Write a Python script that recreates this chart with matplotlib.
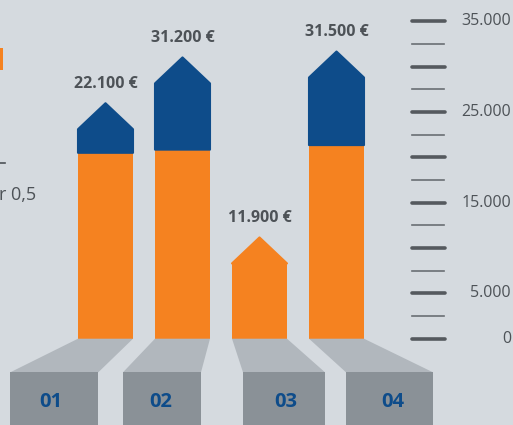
import numpy as np
import matplotlib
matplotlib.use("Agg")
import matplotlib.pyplot as plt
from matplotlib.patches import Polygon, Rectangle

plt.rcParams['font.family'] = ['Open Sans', 'DejaVu Sans']

# data
categories = ['01', '02', '03', '04']
totals = [22100, 31200, 11900, 31500]          # printed labels
orange_top = [20500, 20850, 8300, 21350]       # top of the orange part
blue_top = [23100, 28150, 8300, 28800]         # shoulder of the arrow head
tick_values = np.arange(0, 35001, 2500)
tick_labels = {35000: '35.000', 25000: '25.000', 15000: '15.000', 5000: '5.000', 0: '0'}

# colours
bg = '#d5dadf'
orange = '#f58220'
blue = '#0e4c8a'
txt = '#4d5257'
trap_c = '#b1b7bd'
box_c = '#8a9197'

W, H = 513, 425
fig = plt.figure(figsize=(W / 100, H / 100), dpi=100, facecolor=bg)
ax = fig.add_axes([0, 0, 1, 1])
ax.set_facecolor(bg)
ax.axis('off')

# scale: 0 at y=338.7px, 35000 at y=21.3px (from top)
ppu = (338.7 - 21.3) / 35000.0
ax.set_ylim(-(H - 338.7) / ppu, 35000 + 21.3 / ppu)
# x: bar centres 77px apart, first at 105.5px
step = 77.0
ax.set_xlim(-105.5 / step, (W - 105.5) / step)

x = np.arange(len(categories))
half = 27.5 / step              # half bar width in data units
head = 26.0 / ppu               # arrow head height

for i in x:
    l, r = i - half, i + half
    top_col = blue if blue_top[i] > orange_top[i] else orange
    ax.add_patch(Rectangle((l, 0), 2 * half, orange_top[i], facecolor=orange, edgecolor='none'))
    ax.add_patch(Polygon([(l, orange_top[i]), (r, orange_top[i]), (r, blue_top[i]),
                          (i, blue_top[i] + head), (l, blue_top[i])],
                         closed=True, facecolor=top_col, edgecolor=top_col,
                         lw=1.5, joinstyle='round'))
    ax.annotate(f"{totals[i]:,} €".replace(',', '.'), xy=(i, blue_top[i] + head),
                xytext=(0, 13.8), textcoords='offset points', ha='center', va='center',
                fontsize=11.5, fontweight='bold', color=txt)

# grey pedestals (pixel layout from the reference)
box_px = [(10.3, 98.3), (123, 201), (243, 325), (346, 433)]
label_px = [50.7, 160.7, 286, 393]
box_top = -(372.3 - 338.7) / ppu
for i, (bl, br) in enumerate(box_px):
    bl_d = (bl - 105.5) / step
    br_d = (br - 105.5) / step
    ax.add_patch(Polygon([(i - half, 0), (i + half, 0), (br_d, box_top), (bl_d, box_top)],
                         closed=True, facecolor=trap_c, edgecolor='none'))
    ax.add_patch(Rectangle((bl_d, -20000), br_d - bl_d, 20000 + box_top,
                           facecolor=box_c, edgecolor='none'))
    ax.text((label_px[i] - 105.5) / step, -(402 - 338.7) / ppu, categories[i],
            ha='center', va='center', fontsize=14.5, fontweight='bold', color=blue)

# right-hand scale
tr = ax.get_yaxis_transform()
for k, v in enumerate(tick_values):
    if k % 2 == 0:
        ax.plot([411.7 / W, 445 / W], [v, v], transform=tr, color='#55595e', lw=2.6,
                solid_capstyle='round')
    else:
        ax.plot([412.3 / W, 443.7 / W], [v, v], transform=tr, color='#6a6f74', lw=1.2)
    if v in tick_labels:
        ax.text(511 / W, v, tick_labels[v], transform=tr, ha='right', va='center',
                fontsize=11.5, color=txt)

# cut-off fragments at the left edge
fig.patches.append(Rectangle((0, 1 - 70 / H), 2.5 / W, 22 / H, transform=fig.transFigure,
                             facecolor=orange, edgecolor='none'))
fig.lines.append(plt.Line2D([0, 5 / W], [1 - 163 / H, 1 - 163 / H], transform=fig.transFigure,
                            color=txt, lw=1.2))
fig.text(-1 / W, 1 - 195 / H, 'r 0,5', ha='left', va='center', fontsize=13, color=txt)

fig.savefig('out.png', dpi=100, facecolor=bg)
